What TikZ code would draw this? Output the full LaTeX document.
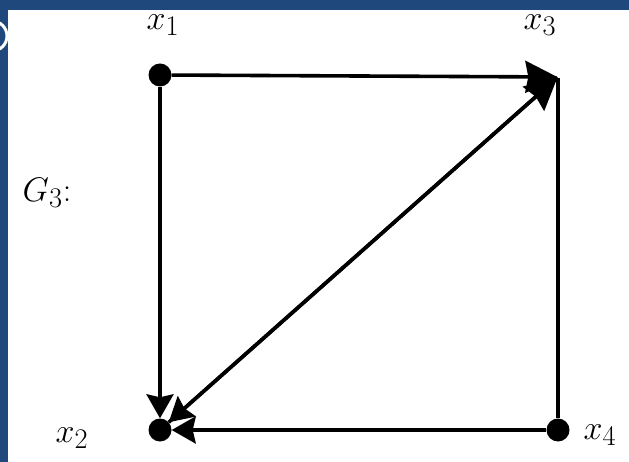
\documentclass[tikz,border=0pt]{standalone}
\usepackage{graphicx}
\usetikzlibrary{arrows.meta}
\definecolor{frameblue}{RGB}{31,73,125}
\newcommand{\biglbl}[1]{\scalebox{1.37}{\Huge #1}}
\begin{document}
\begin{tikzpicture}[x=1pt,y=-1pt,
  vertex/.style={circle,fill=black,inner sep=0pt,minimum size=23pt},
  hidden/.style={circle,inner sep=0pt,minimum size=1pt},
  edge/.style={line width=3.6pt},
  arr/.style={edge,-{Stealth[length=24pt,width=27pt,inset=3pt]}},
  bigarr/.style={edge,-{Stealth[length=32pt,width=32pt,inset=3pt]}},
  lbl/.style={inner sep=0pt}]
\useasboundingbox (0,0) rectangle (629,462);
\fill[frameblue] (0,0) rectangle (629,462);
\begin{scope}
  \clip (0,0) rectangle (8,462);
  \draw[white,line width=3pt] (-8,36) circle (15);
\end{scope}
\fill[white] (8,10) rectangle (629,462);

\node[vertex] (x1) at (160,75) {};
\node[hidden] (x3) at (558,77) {};
\node[vertex] (x2) at (160,430) {};
\node[vertex] (x4) at (558,430) {};

\draw[bigarr] (x1) -- (x3);
\draw[edge] (x4) -- (x3);
\draw[bigarr] (x2) -- (x3);
\draw[arr] (x1) -- (x2);
\draw[arr] (x3) -- (x2);
\draw[arr] (x4) -- (x2);

\node[lbl] (l1) at (163,25) {\biglbl{$x_1$}};
\node[lbl] (l3) at (540,25) {\biglbl{$x_3$}};
\node[lbl] (l2) at (72,438) {\biglbl{$x_2$}};
\node[lbl] (l4) at (600,435) {\biglbl{$x_4$}};
\node[lbl] (g3) at (47,193) {\biglbl{$G_3$:}};
\end{tikzpicture}
\end{document}
